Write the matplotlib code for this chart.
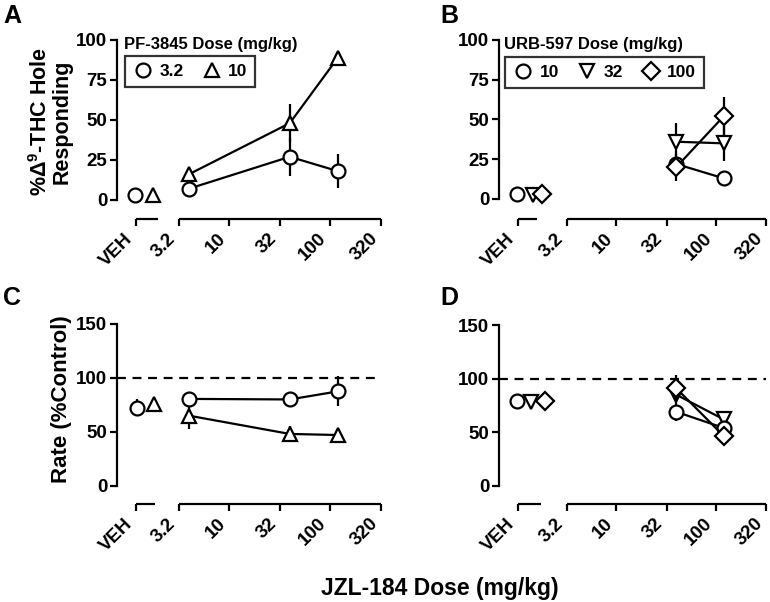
import matplotlib
matplotlib.use("Agg")
import matplotlib.pyplot as plt
import matplotlib.transforms as mtransforms
from matplotlib.lines import Line2D
import numpy as np

plt.rcParams['font.family'] = ['Liberation Sans', 'DejaVu Sans']
plt.rcParams['font.weight'] = 'bold'
plt.rcParams['mathtext.fontset'] = 'custom'
plt.rcParams['mathtext.rm'] = 'Liberation Sans:bold'
plt.rcParams['mathtext.bf'] = 'Liberation Sans:bold'
plt.rcParams['mathtext.it'] = 'Liberation Sans:bold'

# ---------------- data ----------------
jzl_doses = [4, 40, 120]
xtick_vals = [3.2, 10, 32, 100, 320]
xtick_labels = ['3.2', '10', '32', '100', '320']

# Panel A: PF-3845 (% drug-hole responding)
a_labels = ['3.2', '10']
a_veh = [3, 3]
a_means = [[7, 27, 18], [16, 48, 89]]
a_errs = [[2, 12, 10.5], [0, 12, 0]]

# Panel B: URB-597 (% drug-hole responding)
b_labels = ['10', '32', '100']
b_veh = [3, 2.5, 3]
b_means = [[22, 13], [36, 35], [20, 52]]
b_errs = [[0, 0], [12, 11], [9, 12]]
b_doses = [40, 120]

# Panel C: PF-3845 (rate)
c_veh = [72.5, 76]
c_veh_err = [8, 0]
c_means = [[80.5, 80, 87.5], [65, 48, 47]]
c_errs = [[5, 6, 14], [12, 7, 0]]

# Panel D: URB-597 (rate)
d_veh = [79, 78, 79]
d_means = [[69, 54], [85, 62], [91, 46.5]]
d_errs = [[9, 6], [0, 0], [12, 0]]

W, H = 770, 602
fig = plt.figure(figsize=(W / 100, H / 100), dpi=100)

LW = 1.6
MS = 10
TICKFS = 13.5


def px_axes(l, r, top, bot):
    return fig.add_axes([l / W, 1 - bot / H, (r - l) / W, (bot - top) / H])


def setup(ax, ylim, yticks, xl, veh_tick, veh_end):
    ax.set_xscale('log')
    ax.set_xlim(xl, 320)
    ax.set_ylim(*ylim)
    ax.patch.set_alpha(0)
    for s in ['top', 'right', 'bottom']:
        ax.spines[s].set_visible(False)
    ax.spines['left'].set_linewidth(LW)
    ax.spines['left'].set_bounds(yticks[0], yticks[-1])
    ax.set_yticks(yticks)
    ax.set_yticklabels([str(t) for t in yticks], fontsize=TICKFS, fontweight='bold')
    ax.xaxis.set_minor_locator(matplotlib.ticker.NullLocator())
    ax.set_xticks([veh_tick] + xtick_vals)
    ax.set_xticklabels(['VEH'] + xtick_labels, fontsize=TICKFS, fontweight='bold',
                       rotation=45, ha='right', va='top', rotation_mode='default')
    ax.tick_params(axis='y', direction='out', length=5, width=LW, pad=2)
    ax.tick_params(axis='x', direction='out', length=5, width=LW, pad=3)
    tr = mtransforms.blended_transform_factory(ax.transData, ax.transAxes)
    ax.plot([veh_tick, veh_end], [0, 0], color='k', lw=LW, transform=tr,
            clip_on=False, solid_capstyle='butt')
    ax.plot([3.2, 320], [0, 0], color='k', lw=LW, transform=tr,
            clip_on=False, solid_capstyle='butt')


def series(ax, x, y, e, marker, z, ms=MS):
    ax.errorbar(x, y, yerr=e, fmt='none', ecolor='k', elinewidth=LW, capsize=0,
                zorder=z, clip_on=False)
    ax.plot(x, y, color='k', lw=LW, marker=marker, ms=ms, mfc='white', mec='k',
            mew=LW, zorder=z + 0.5, clip_on=False)


def veh_point(ax, x, y, e, marker, z, ms=MS):
    if e:
        ax.errorbar([x], [y], yerr=[e], fmt='none', ecolor='k', elinewidth=LW,
                    capsize=0, zorder=z, clip_on=False)
    ax.plot([x], [y], ls='none', marker=marker, ms=ms, mfc='white', mec='k',
            mew=LW, zorder=z + 0.5, clip_on=False)


def leg(handles_labels, l, top, ncol):
    handles = [Line2D([], [], ls='none', marker=m, ms=ms, mfc='white', mec='k', mew=LW)
               for m, ms in handles_labels[0]]
    lg = fig.legend(handles, handles_labels[1], loc='upper left',
                    bbox_to_anchor=(l / W, 1 - top / H), ncol=ncol, frameon=True,
                    fancybox=False, edgecolor='k',
                    handletextpad=0.35, columnspacing=1.0, handlelength=1.2,
                    borderpad=0.45, borderaxespad=0, prop={'weight': 'bold', 'size': 12.5})
    lg.get_frame().set_linewidth(LW)


# ---- Panel A ----
axA = px_axes(117, 381, 40, 219)
setup(axA, (-11.9, 100), [0, 25, 50, 75, 100], 0.78, 1.2, 1.98)
veh_point(axA, 1.18, a_veh[0], 0, 'o', 3)
veh_point(axA, 1.77, a_veh[1], 0, '^', 3)
series(axA, jzl_doses, a_means[1], a_errs[1], '^', 3)
series(axA, jzl_doses, a_means[0], a_errs[0], 'o', 4)
fig.text(124 / W, 1 - 45 / H, 'PF-3845 Dose (mg/kg)', fontsize=12, fontweight='bold',
         ha='left', va='center')
leg(([('o', MS), ('^', MS)], a_labels), 125, 56, 2)

# ---- Panel B ----
axB = px_axes(499, 766, 40, 219)
setup(axB, (-12.6, 100), [0, 25, 50, 75, 100], 0.66, 1.03, 1.6)
veh_point(axB, 1.0, b_veh[0], 0, 'o', 3)
veh_point(axB, 1.45, b_veh[1], 0, 'v', 3)
veh_point(axB, 1.8, b_veh[2], 0, 'D', 3, ms=9)
series(axB, b_doses, b_means[0], b_errs[0], 'o', 3)
series(axB, b_doses, b_means[1], b_errs[1], 'v', 4)
series(axB, b_doses, b_means[2], b_errs[2], 'D', 5, ms=9)
fig.text(504 / W, 1 - 45 / H, 'URB-597 Dose (mg/kg)', fontsize=12, fontweight='bold',
         ha='left', va='center')
leg(([('o', MS), ('v', MS), ('D', 9)], b_labels), 505, 57, 3)

# ---- Panel C ----
axC = px_axes(117, 381, 324, 504)
setup(axC, (-17, 150), [0, 50, 100, 150], 0.78, 1.2, 1.85)
axC.axhline(100, xmin=0, xmax=1, color='k', lw=LW, ls=(0, (4, 3)))
veh_point(axC, 1.22, c_veh[0], c_veh_err[0], 'o', 3)
veh_point(axC, 1.81, c_veh[1], c_veh_err[1], '^', 3)
series(axC, jzl_doses, c_means[1], c_errs[1], '^', 3)
series(axC, jzl_doses, c_means[0], c_errs[0], 'o', 4)

# ---- Panel D ----
axD = px_axes(499, 766, 325, 504)
setup(axD, (-17, 150), [0, 50, 100, 150], 0.66, 1.03, 1.75)
axD.axhline(100, xmin=0, xmax=1, color='k', lw=LW, ls=(0, (4, 3)))
veh_point(axD, 1.0, d_veh[0], 0, 'o', 3)
veh_point(axD, 1.4, d_veh[1], 0, 'v', 3)
veh_point(axD, 1.92, d_veh[2], 0, 'D', 3, ms=9)
series(axD, b_doses, d_means[1], d_errs[1], 'v', 3)
series(axD, b_doses, d_means[0], d_errs[0], 'o', 4)
series(axD, b_doses, d_means[2], d_errs[2], 'D', 5, ms=9)

# ---- labels ----
fig.text(51 / W, 1 - 122 / H, '%$\\Delta^{9}$-THC Hole\nResponding', rotation=90,
         fontsize=15.5, fontweight='bold', ha='center', va='center', multialignment='center',
         linespacing=1.0)
fig.text(62 / W, 1 - 399 / H, 'Rate (%Control)', rotation=90, fontsize=16,
         fontweight='bold', ha='center', va='center')
fig.text(440 / W, 1 - 589 / H, 'JZL-184 Dose (mg/kg)', fontsize=16.5, fontweight='bold',
         ha='center', va='center')

for lab, x, y in [('A', 3, 16), ('B', 440, 16), ('C', 3, 298), ('D', 440, 298)]:
    fig.text(x / W, 1 - y / H, lab, fontsize=18, fontweight='bold', ha='left', va='center')

fig.savefig('out.png', dpi=100)
